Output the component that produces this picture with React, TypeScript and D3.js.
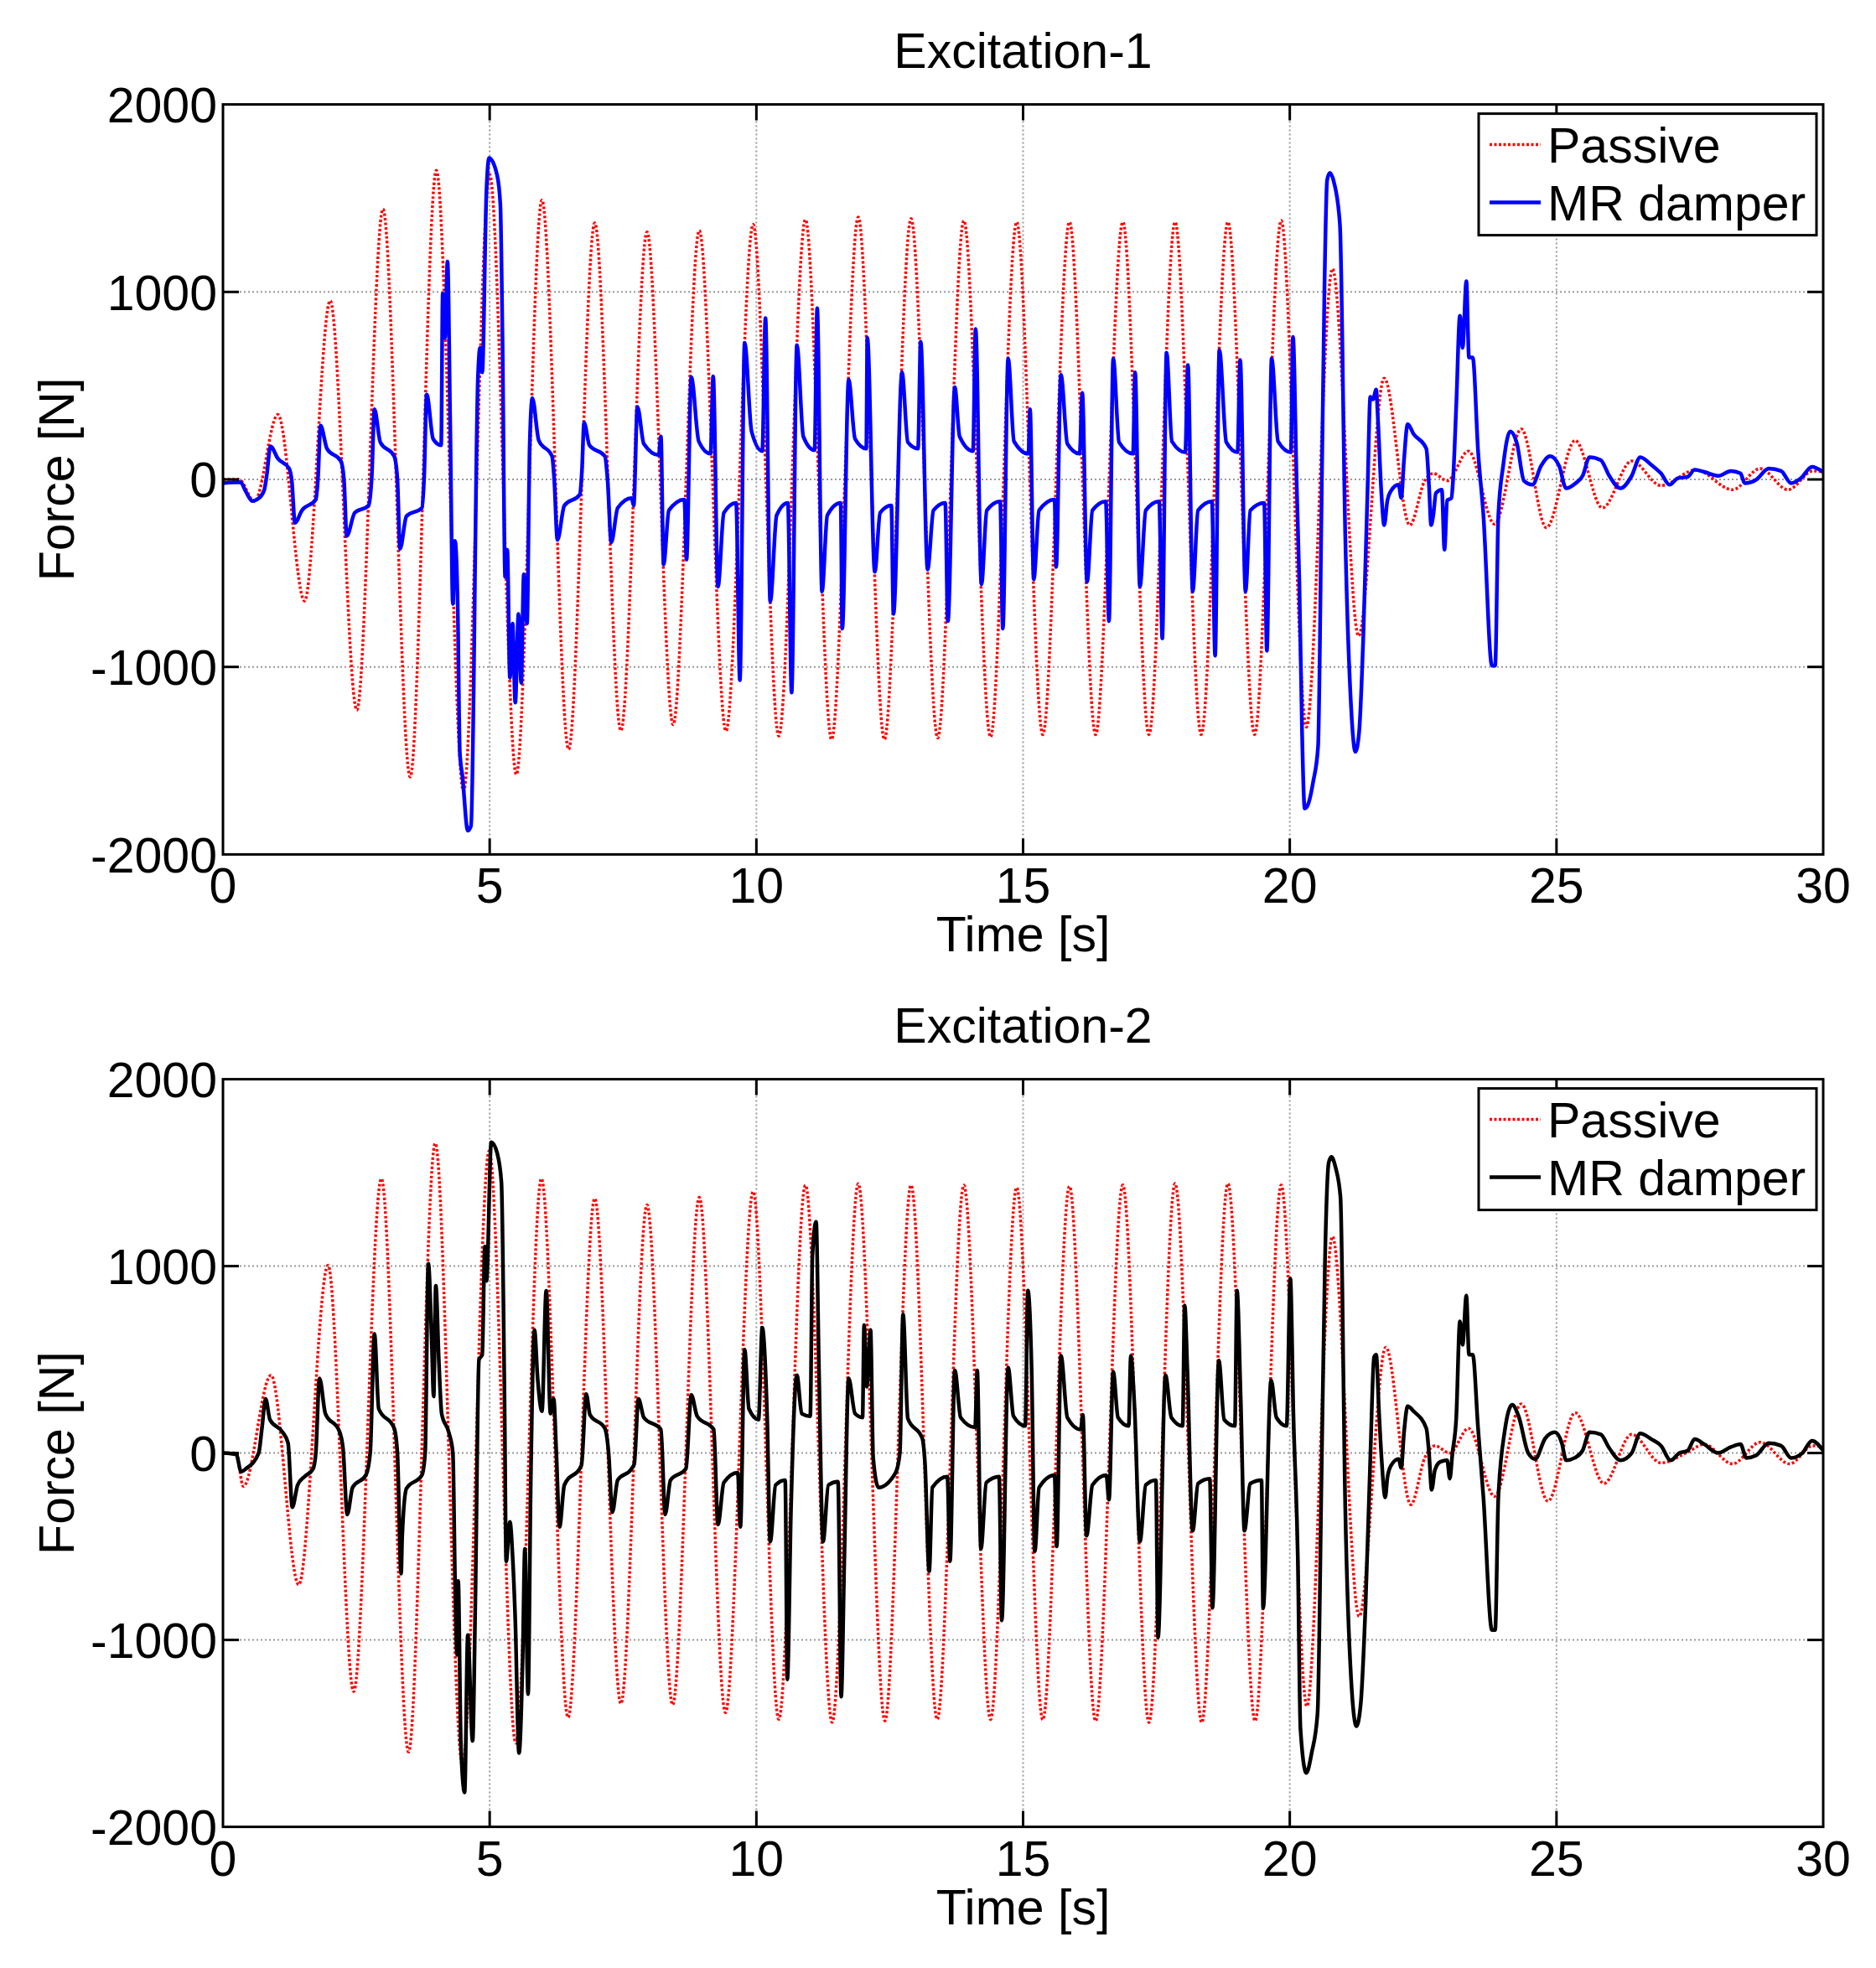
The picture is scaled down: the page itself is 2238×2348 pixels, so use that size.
import React, { useEffect } from 'react';
import * as d3 from 'd3';

type P = [number, number];

const xTicks = [0, 5, 10, 15, 20, 25, 30];
const yTicks = [-2000, -1000, 0, 1000, 2000];
const titles = ['Excitation-1', 'Excitation-2'];
const seriesNames = ['Passive', 'MR damper'];
const xLabel = 'Time [s]';
const yLabel = 'Force [N]';

// Excitation-1, passive damper force (time s, force N)
const passive1: P[] = [
  [0, 0], [0.3, 0], [0.59, -118], [1.03, 346], [1.53, -648], [2.01, 953], [2.51, -1230], [3.0, 1442],
  [3.51, -1587], [4.0, 1648], [4.51, -1664], [5.0, 1626], [5.5, -1574], [5.98, 1490], [6.48, -1440],
  [6.97, 1368], [7.46, -1340], [7.95, 1320], [8.44, -1308], [8.93, 1328], [9.43, -1342], [9.94, 1360],
  [10.42, -1369], [10.92, 1386], [11.41, -1387], [11.91, 1399], [12.4, -1387], [12.9, 1391], [13.4, -1379],
  [13.89, 1380], [14.39, -1374], [14.88, 1373], [15.37, -1361], [15.87, 1373], [16.36, -1361], [16.87, 1373],
  [17.36, -1361], [17.85, 1373], [18.34, -1361], [18.84, 1373], [19.34, -1361], [19.84, 1381], [20.31, -1321],
  [20.8, 1123], [21.29, -835], [21.77, 540], [22.25, -244], [22.53, -7], [22.69, 32], [22.95, -7],
  [23.35, 151], [23.84, -238], [24.34, 269], [24.81, -257], [25.35, 208], [25.86, -152], [26.41, 98],
  [26.96, -33], [27.61, 51], [28.3, -55], [28.82, 58], [29.34, -55], [29.81, 45], [30, 40],
];

// Excitation-1, MR damper force
const mr1: P[] = [
  [0, -20], [0.33, -15], [0.42, -60], [0.55, -115], [0.65, -105], [0.77, -60], [0.82, 20], [0.89, 177],
  [1.03, 111], [1.24, 59], [1.29, -7], [1.35, -231], [1.48, -165], [1.74, -107], [1.78, 0], [1.83, 287],
  [1.95, 164], [2.21, 98], [2.27, -7], [2.32, -302], [2.47, -178], [2.73, -139], [2.79, 19], [2.84, 374],
  [2.95, 198], [3.21, 124], [3.27, 0], [3.32, -370], [3.44, -196], [3.73, -152], [3.77, 0], [3.82, 453],
  [3.94, 216], [4.09, 182], [4.12, 992], [4.16, 755], [4.21, 1162], [4.26, 300], [4.31, -664], [4.35, -328],
  [4.4, -664], [4.44, -1452], [4.49, -1584], [4.59, -1873], [4.65, -1847], [4.78, 545], [4.82, 702],
  [4.86, 571], [4.94, 1543], [4.99, 1714], [5.14, 1622], [5.2, 1465], [5.24, 755], [5.29, -520],
  [5.33, -375], [5.38, -1058], [5.43, -769], [5.48, -1190], [5.54, -717], [5.59, -1085], [5.64, -506],
  [5.7, -769], [5.75, 177], [5.8, 434], [5.92, 208], [6.17, 124], [6.21, 0], [6.27, -323], [6.4, -139],
  [6.69, -81], [6.73, 50], [6.77, 303], [6.87, 182], [7.16, 124], [7.21, 0], [7.28, -336], [7.4, -152],
  [7.66, -99], [7.7, -139], [7.77, 387], [7.89, 190], [8.17, 130], [8.21, 229], [8.26, -454], [8.36, -165],
  [8.65, -107], [8.69, -428], [8.78, 545], [8.92, 203], [9.14, 137], [9.19, 550], [9.28, -572], [9.39, -178],
  [9.62, -125], [9.69, -1071], [9.78, 729], [9.91, 256], [10.11, 151], [10.17, 860], [10.26, -651],
  [10.38, -191], [10.59, -125], [10.66, -1137], [10.76, 716], [10.88, 229], [11.09, 156], [11.14, 913],
  [11.23, -598], [11.33, -191], [11.58, -125], [11.61, -796], [11.73, 532], [11.85, 216], [12.06, 164],
  [12.08, 755], [12.22, -493], [12.32, -178], [12.53, -139], [12.57, -717], [12.73, 571], [12.84, 198],
  [13.03, 164], [13.08, 734], [13.21, -480], [13.32, -165], [13.54, -125], [13.59, -756], [13.72, 492],
  [13.81, 229], [14.06, 151], [14.11, 802], [14.22, -559], [14.32, -165], [14.57, -117], [14.62, -796],
  [14.72, 645], [14.83, 203], [15.1, 137], [15.13, 374], [15.2, -533], [15.3, -165], [15.59, -107],
  [15.62, -467], [15.71, 558], [15.83, 190], [16.06, 137], [16.11, 461], [16.2, -546], [16.3, -165],
  [16.55, -117], [16.61, -756], [16.69, 645], [16.8, 198], [17.06, 137], [17.1, 571], [17.19, -572],
  [17.3, -165], [17.55, -117], [17.61, -848], [17.69, 676], [17.79, 203], [18.04, 145], [18.09, 610],
  [18.18, -598], [18.28, -165], [18.54, -117], [18.6, -940], [18.68, 689], [18.81, 198], [19.02, 145],
  [19.07, 637], [19.17, -598], [19.26, -165], [19.52, -125], [19.57, -914], [19.66, 645], [19.78, 203],
  [20.02, 145], [20.06, 760], [20.13, -33], [20.18, -559], [20.23, -1347], [20.28, -1755], [20.33, -1742],
  [20.44, -1610], [20.53, -1426], [20.6, -33], [20.65, 1018], [20.7, 1596], [20.75, 1635], [20.83, 1583],
  [20.94, 1359], [21.04, -296], [21.15, -1216], [21.23, -1453], [21.3, -1347], [21.38, -822], [21.46, -33],
  [21.51, 440], [21.56, 427], [21.62, 479], [21.65, 335], [21.72, -86], [21.77, -244], [21.83, -112],
  [21.9, -60], [22.04, -28], [22.09, -99], [22.14, 98], [22.21, 295], [22.32, 243], [22.56, 164],
  [22.61, -33], [22.65, -244], [22.69, -191], [22.74, -73], [22.85, -55], [22.9, -375], [22.95, -112],
  [23.03, -99], [23.06, -7], [23.12, 387], [23.19, 873], [23.24, 702], [23.31, 1057], [23.36, 650],
  [23.43, 650], [23.53, 151], [23.63, -191], [23.79, -993], [23.85, -993], [23.91, -191], [24.0, 72],
  [24.13, 256], [24.26, 190], [24.39, -7], [24.55, -28], [24.71, 72], [24.88, 124], [25.05, 72],
  [25.18, -47], [25.36, -20], [25.49, 19], [25.62, 119], [25.83, 103], [25.99, 19], [26.2, -47],
  [26.41, 19], [26.57, 119], [26.78, 77], [26.96, 32], [27.12, -28], [27.27, 6], [27.46, 14], [27.59, 51],
  [27.77, 40], [28.03, 19], [28.27, 45], [28.45, 32], [28.53, -20], [28.74, -2], [28.98, 58], [29.21, 45],
  [29.4, -20], [29.58, 6], [29.79, 67], [30, 40],
];

// Excitation-2, passive damper force
const passive2: P[] = [
  [0, 0], [0.25, 0], [0.38, -179], [0.9, 416], [1.42, -705], [1.97, 1005], [2.45, -1276], [2.97, 1468],
  [3.48, -1599], [3.98, 1657], [4.49, -1670], [4.99, 1617], [5.49, -1552], [5.97, 1468], [6.47, -1415],
  [6.97, 1362], [7.46, -1341], [7.95, 1328], [8.43, -1347], [8.93, 1368], [9.42, -1389], [9.94, 1399],
  [10.42, -1425], [10.92, 1433], [11.42, -1441], [11.91, 1441], [12.41, -1433], [12.9, 1433], [13.39, -1425],
  [13.89, 1433], [14.39, -1425], [14.88, 1421], [15.37, -1427], [15.87, 1427], [16.36, -1434], [16.87, 1434],
  [17.36, -1442], [17.85, 1442], [18.35, -1442], [18.84, 1442], [19.35, -1434], [19.84, 1434], [20.32, -1355],
  [20.8, 1158], [21.3, -874], [21.8, 566], [22.27, -276], [22.53, -26], [22.72, 39], [23.0, 0], [23.35, 132],
  [23.84, -232], [24.34, 263], [24.84, -258], [25.35, 216], [25.89, -163], [26.41, 100], [26.96, -53],
  [27.46, 5], [27.77, 47], [28.3, -58], [28.82, 58], [29.37, -58], [29.81, 39], [30, 32],
];

// Excitation-2, MR damper force
const mr2: P[] = [
  [0, 0], [0.25, -8], [0.34, -100], [0.43, -84], [0.67, 0], [0.73, 132], [0.8, 290], [0.88, 179],
  [1.12, 111], [1.22, 53], [1.3, -290], [1.4, -171], [1.53, -126], [1.69, -84], [1.74, 0], [1.81, 400],
  [1.92, 211], [2.18, 118], [2.25, 26], [2.33, -329], [2.43, -184], [2.68, -118], [2.76, 0], [2.84, 637],
  [2.92, 237], [3.21, 132], [3.27, 0], [3.34, -645], [3.36, -447], [3.44, -190], [3.73, -118], [3.79, 0],
  [3.85, 1013], [3.91, 632], [3.95, 303], [3.99, 895], [4.05, 474], [4.1, 211], [4.24, 105], [4.31, 0],
  [4.35, -671], [4.39, -1079], [4.41, -684], [4.46, -1553], [4.53, -1816], [4.59, -974], [4.68, -1540],
  [4.73, -816], [4.8, 500], [4.86, 526], [4.91, 1105], [4.94, 921], [5.03, 1663], [5.14, 1605], [5.22, 1448],
  [5.28, 237], [5.31, -579], [5.38, -368], [5.43, -553], [5.48, -895], [5.55, -1605], [5.62, -1079],
  [5.66, -513], [5.72, -1290], [5.77, -158], [5.84, 658], [5.9, 395], [5.98, 224], [6.06, 868], [6.14, 211],
  [6.2, 290], [6.25, 0], [6.31, -395], [6.4, -171], [6.72, -66], [6.81, 316], [6.88, 205], [7.16, 132],
  [7.23, 0], [7.3, -316], [7.4, -145], [7.66, -84], [7.71, -58], [7.79, 290], [7.89, 190], [8.21, 126],
  [8.29, -329], [8.39, -145], [8.68, -84], [8.78, 311], [8.89, 197], [9.2, 126], [9.28, -382], [9.39, -158],
  [9.65, -105], [9.7, -395], [9.78, 553], [9.86, 237], [10.04, 179], [10.11, 671], [10.2, 211], [10.26, -474],
  [10.36, -171], [10.54, -145], [10.58, -1211], [10.65, -290], [10.76, 416], [10.85, 211], [11.01, 197],
  [11.05, 1053], [11.12, 1237], [11.17, 500], [11.25, -474], [11.35, -171], [11.53, -153], [11.59, -1303],
  [11.65, -553], [11.73, 400], [11.85, 211], [11.99, 190], [12.02, 684], [12.07, 355], [12.14, 658],
  [12.19, -26], [12.29, -184], [12.61, -105], [12.69, 0], [12.75, 742], [12.84, 184], [13.11, 79],
  [13.16, -50], [13.24, -632], [13.3, -184], [13.58, -126], [13.63, -579], [13.72, 442], [13.83, 190],
  [14.1, 137], [14.14, 442], [14.21, -513], [14.31, -158], [14.55, -126], [14.6, -895], [14.72, 457],
  [14.82, 197], [15.04, 145], [15.09, 869], [15.16, 447], [15.22, -526], [15.3, -184], [15.59, -118],
  [15.63, -500], [15.71, 521], [15.83, 190], [16.08, 126], [16.12, 205], [16.19, -442], [16.3, -171],
  [16.56, -118], [16.61, -250], [16.69, 434], [16.78, 190], [16.98, 145], [17.02, 521], [17.09, 242],
  [17.19, -474], [17.3, -171], [17.49, -145], [17.53, -987], [17.67, 416], [17.78, 190], [17.99, 145],
  [18.03, 790], [18.08, 447], [18.18, -416], [18.28, -163], [18.5, -137], [18.55, -829], [18.67, 495],
  [18.77, 179], [18.97, 145], [19.01, 869], [19.08, 290], [19.15, -416], [19.26, -163], [19.47, -145],
  [19.5, -829], [19.65, 390], [19.75, 190], [19.94, 145], [20.01, 934], [20.07, 184], [20.15, -553],
  [20.2, -1474], [20.31, -1711], [20.41, -1605], [20.52, -1395], [20.6, -26], [20.66, 1026], [20.73, 1553],
  [20.78, 1584], [20.86, 1526], [20.95, 1369], [21.04, -290], [21.15, -1211], [21.25, -1461], [21.33, -1342],
  [21.42, -816], [21.51, -26], [21.58, 513], [21.62, 526], [21.67, 237], [21.72, -26], [21.79, -237],
  [21.83, -132], [21.9, -66], [22.04, -32], [22.09, -79], [22.14, 105], [22.21, 250], [22.32, 224],
  [22.56, 132], [22.61, 0], [22.66, -197], [22.72, -92], [22.82, -47], [22.95, -39], [23.0, -137],
  [23.05, 0], [23.12, 184], [23.19, 705], [23.24, 579], [23.31, 842], [23.36, 526], [23.43, 526],
  [23.53, 132], [23.63, -237], [23.79, -947], [23.85, -947], [23.91, -237], [24.03, 118], [24.17, 258],
  [24.29, 197], [24.47, 0], [24.6, -32], [24.79, 79], [24.97, 111], [25.1, 53], [25.18, -39], [25.34, -26],
  [25.49, 13], [25.62, 111], [25.83, 100], [25.99, 26], [26.2, -39], [26.41, 0], [26.57, 105], [26.78, 74],
  [26.96, 39], [27.14, -39], [27.3, 0], [27.46, 13], [27.59, 74], [27.77, 47], [28.03, 0], [28.27, 32],
  [28.45, 47], [28.56, -26], [28.74, -13], [28.98, 53], [29.21, 39], [29.4, -26], [29.61, 0], [29.79, 66],
  [30, 13],
];

const W = 2238;
const H = 2348;
const FONT = '"Liberation Sans", Arial, Helvetica, sans-serif';
const FS = 59;
const LEFT = 266;
const RIGHT = 2175;

interface PanelProps {
  id: string;
  top: number;
  bottom: number;
  title: string;
  passive: P[];
  mr: P[];
  mrColor: string;
}

function Panel({ id, top, bottom, title, passive, mr, mrColor }: PanelProps) {
  const x = d3.scaleLinear().domain([0, 30]).range([LEFT, RIGHT]);
  const y = d3.scaleLinear().domain([-2000, 2000]).range([bottom, top]);
  const line = d3
    .line<P>()
    .x((d) => x(d[0]))
    .y((d) => y(d[1]))
    .curve(d3.curveMonotoneX);
  const tickLen = 19;
  const cx = (LEFT + RIGHT) / 2;
  const cy = (top + bottom) / 2;
  const lgX0 = RIGHT - 411;
  const lgX1 = RIGHT - 8;
  const lgY0 = top + 11;
  const lgY1 = top + 156;
  const rows = [lgY0 + 37, lgY0 + 106];
  const redDash = '3 2.5';
  return (
    <g>
      <defs>
        <clipPath id={id}>
          <rect x={LEFT} y={top} width={RIGHT - LEFT} height={bottom - top} />
        </clipPath>
      </defs>
      <rect x={LEFT} y={top} width={RIGHT - LEFT} height={bottom - top} fill="#fff" />
      {/* grid */}
      {xTicks.slice(1, -1).map((t) => (
        <line key={'gx' + t} x1={x(t)} x2={x(t)} y1={top} y2={bottom} stroke="#9a9a9a" strokeWidth={2} strokeDasharray="2 3" />
      ))}
      {yTicks.slice(1, -1).map((v) => (
        <line key={'gy' + v} x1={LEFT} x2={RIGHT} y1={y(v)} y2={y(v)} stroke="#9a9a9a" strokeWidth={2} strokeDasharray="2 3" />
      ))}
      {/* data */}
      <g clipPath={`url(#${id})`}>
        <path d={line(passive) || ''} fill="none" stroke="#ff0000" strokeWidth={3.5} strokeDasharray={redDash} />
        <path d={line(mr) || ''} fill="none" stroke={mrColor} strokeWidth={4.5} strokeLinejoin="round" />
      </g>
      {/* ticks */}
      {xTicks.slice(1, -1).map((t) => (
        <g key={'tx' + t}>
          <line x1={x(t)} x2={x(t)} y1={bottom} y2={bottom - tickLen} stroke="#000" strokeWidth={3} />
          <line x1={x(t)} x2={x(t)} y1={top} y2={top + tickLen} stroke="#000" strokeWidth={3} />
        </g>
      ))}
      {yTicks.slice(1, -1).map((v) => (
        <g key={'ty' + v}>
          <line x1={LEFT} x2={LEFT + tickLen} y1={y(v)} y2={y(v)} stroke="#000" strokeWidth={3} />
          <line x1={RIGHT} x2={RIGHT - tickLen} y1={y(v)} y2={y(v)} stroke="#000" strokeWidth={3} />
        </g>
      ))}
      <rect x={LEFT} y={top} width={RIGHT - LEFT} height={bottom - top} fill="none" stroke="#000" strokeWidth={3} />
      {/* tick labels */}
      {xTicks.map((t) => (
        <text key={'lx' + t} x={x(t)} y={bottom + 58} textAnchor="middle" fontFamily={FONT} fontSize={FS}>
          {t}
        </text>
      ))}
      {yTicks.map((v) => (
        <text key={'ly' + v} x={LEFT - 7} y={y(v) + FS * 0.36} textAnchor="end" fontFamily={FONT} fontSize={FS}>
          {v}
        </text>
      ))}
      {/* labels */}
      <text x={cx} y={top - 44} textAnchor="middle" fontFamily={FONT} fontSize={FS}>
        {title}
      </text>
      <text x={cx} y={bottom + 116} textAnchor="middle" fontFamily={FONT} fontSize={FS}>
        {xLabel}
      </text>
      <text x={88} y={cy} textAnchor="middle" fontFamily={FONT} fontSize={FS} transform={`rotate(-90 88 ${cy})`}>
        {yLabel}
      </text>
      {/* legend */}
      <rect x={lgX0} y={lgY0} width={lgX1 - lgX0} height={lgY1 - lgY0} fill="#fff" stroke="#000" strokeWidth={3} />
      <line x1={lgX0 + 13} x2={lgX0 + 74} y1={rows[0]} y2={rows[0]} stroke="#ff0000" strokeWidth={3.5} strokeDasharray={redDash} />
      <line x1={lgX0 + 13} x2={lgX0 + 74} y1={rows[1]} y2={rows[1]} stroke={mrColor} strokeWidth={4.5} />
      <text x={lgX0 + 82} y={rows[0] + FS * 0.36} fontFamily={FONT} fontSize={FS}>
        {seriesNames[0]}
      </text>
      <text x={lgX0 + 82} y={rows[1] + FS * 0.36} fontFamily={FONT} fontSize={FS}>
        {seriesNames[1]}
      </text>
    </g>
  );
}

export default function App() {
  useEffect(() => {
    document.body.style.margin = '0';
  }, []);
  return (
    <svg
      width={W}
      height={H}
      viewBox={`0 0 ${W} ${H}`}
      style={{ position: 'absolute', left: 0, top: 0, display: 'block', background: '#fff' }}
    >
      <rect x={0} y={0} width={W} height={H} fill="#fff" />
      <Panel id="clipA" top={124.6} bottom={1019.4} title={titles[0]} passive={passive1} mr={mr1} mrColor="#0000ff" />
      <Panel id="clipB" top={1287.6} bottom={2179.6} title={titles[1]} passive={passive2} mr={mr2} mrColor="#000000" />
    </svg>
  );
}
